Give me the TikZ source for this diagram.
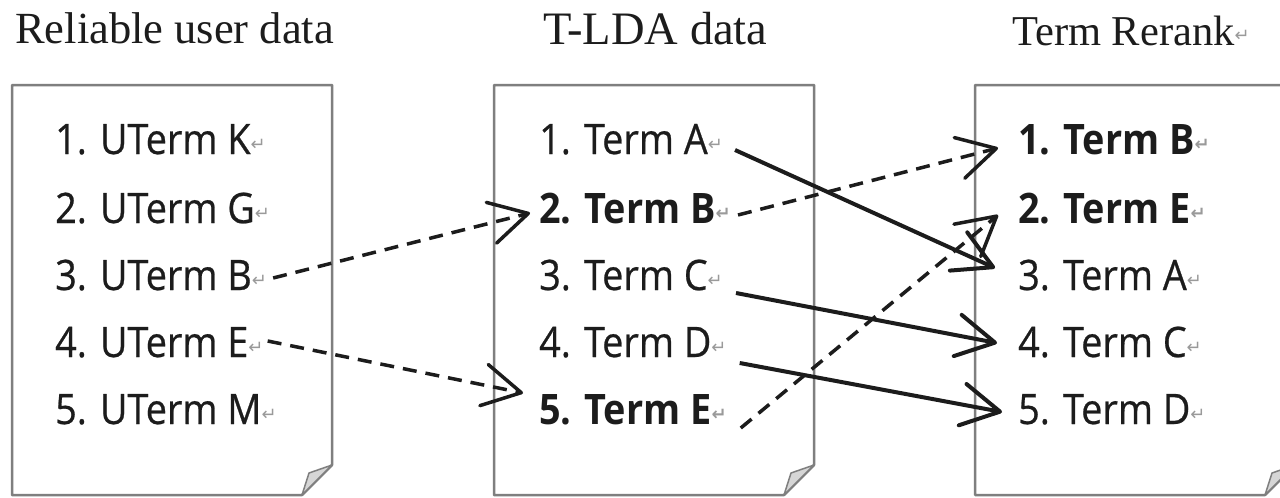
\documentclass[tikz,border=0pt]{standalone}
\usepackage{fontspec}
\setmainfont{Liberation Serif}
\newfontfamily\termfont[FakeStretch=0.9, UprightFeatures={FakeBold=0.6}]{Open Sans}
\newfontfamily\retfont{DejaVu Sans}
\usetikzlibrary{arrows.meta,calc}

\definecolor{pageedge}{HTML}{7F7F7F}
\definecolor{flapfill}{HTML}{D6D6D6}
\definecolor{retgray}{HTML}{9A9A9A}
\definecolor{ink}{HTML}{1C1C1C}

% paragraph mark after each line
\newcommand{\parmark}{{\retfont\fontsize{18}{18}\selectfont\color{retgray}\raisebox{4pt}{↵}}}

\tikzset{
  title/.style={anchor=base west, inner sep=0pt, text=ink},
  term/.style={anchor=base west, inner sep=0pt, text=ink,
               font=\termfont\fontsize{42}{42}\selectfont},
  hot/.style={term, font=\termfont\bfseries\fontsize{42}{42}\selectfont},
  page/.style={draw=pageedge, line width=2.5, fill=white, line join=round},
  flap/.style={draw=pageedge, line width=1.5, fill=flapfill, line join=round},
  link/.style={-{Straight Barb[length=38pt,width=42pt,round]}, ink},
  solidlink/.style={link, line width=4},
  dashlink/.style={link, line width=3.5, dash pattern=on 14pt off 9pt},
}

\begin{document}
\begin{tikzpicture}[x=1pt, y=-1pt]
\useasboundingbox (0,0) rectangle (1280,498);
\clip (0,0) rectangle (1280,498);
\fill[white] (0,0) rectangle (1280,498);

% three sheets with a folded bottom-right corner
\foreach \x in {12,494,975}{
  \draw[page] (\x,85) -- ++(320,0) -- ++(0,380) -- ++(-30,30) -- (\x,495) -- cycle;
  \draw[flap] (\x+290,495) -- (\x+297,473) -- (\x+320,465) -- cycle;
}

% column headings
\node[title, font=\fontsize{44.5}{44.5}\selectfont] (h1) at (15,43) {Reliable user data};
\node[title, font=\fontsize{46.5}{46.5}\selectfont] (h2) at (543,44) {T-LDA data};
\node[title, font=\fontsize{42.5}{42.5}\selectfont] (h3) at (1012,45) {Term Rerank\parmark};

% reliable user terms
\node[term] (u1) at (55,154) {1. UTerm K\parmark};
\node[term] (u2) at (55,223) {2. UTerm G\parmark};
\node[term] (u3) at (55,290) {3. UTerm B\parmark};
\node[term] (u4) at (55,357) {4. UTerm E\parmark};
\node[term] (u5) at (55,424) {5. UTerm M\parmark};

% T-LDA terms
\node[term] (t1) at (539,154) {1. Term A\parmark};
\node[hot]  (t2) at (539,223) {2. Term B\parmark};
\node[term] (t3) at (539,290) {3. Term C\parmark};
\node[term] (t4) at (539,357) {4. Term D\parmark};
\node[hot]  (t5) at (539,424) {5. Term E\parmark};

% reranked terms
\node[hot]  (r1) at (1018,154) {1. Term B\parmark};
\node[hot]  (r2) at (1018,223) {2. Term E\parmark};
\node[term] (r3) at (1018,290) {3. Term A\parmark};
\node[term] (r4) at (1018,357) {4. Term C\parmark};
\node[term] (r5) at (1018,424) {5. Term D\parmark};

% user terms lifting T-LDA terms
\draw[dashlink] ($(u3.base east)+(6,-12)$) -- ($(t2.base west)+(-9,-10)$);
\draw[dashlink] ($(u4.base east)+(4,-16)$) -- ($(t5.base west)+(-16,-31)$);

% moves into the reranked list
\draw[solidlink] ($(t1.base east)+(12,-4)$) -- ($(r3.base west)+(-23,-22)$);
\draw[dashlink]  ($(t2.base east)+(7,-8)$)  -- ($(r1.base west)+(-20,-6)$);
\draw[solidlink] ($(t3.base east)+(13,3)$)  -- ($(r4.base west)+(-21,-14)$);
\draw[solidlink] ($(t4.base east)+(13,6)$)  -- ($(r5.base west)+(-16,-12)$);
\draw[dashlink]  ($(t5.base east)+(14,4)$)  -- ($(r2.base west)+(-20,-8)$);
\end{tikzpicture}
\end{document}
